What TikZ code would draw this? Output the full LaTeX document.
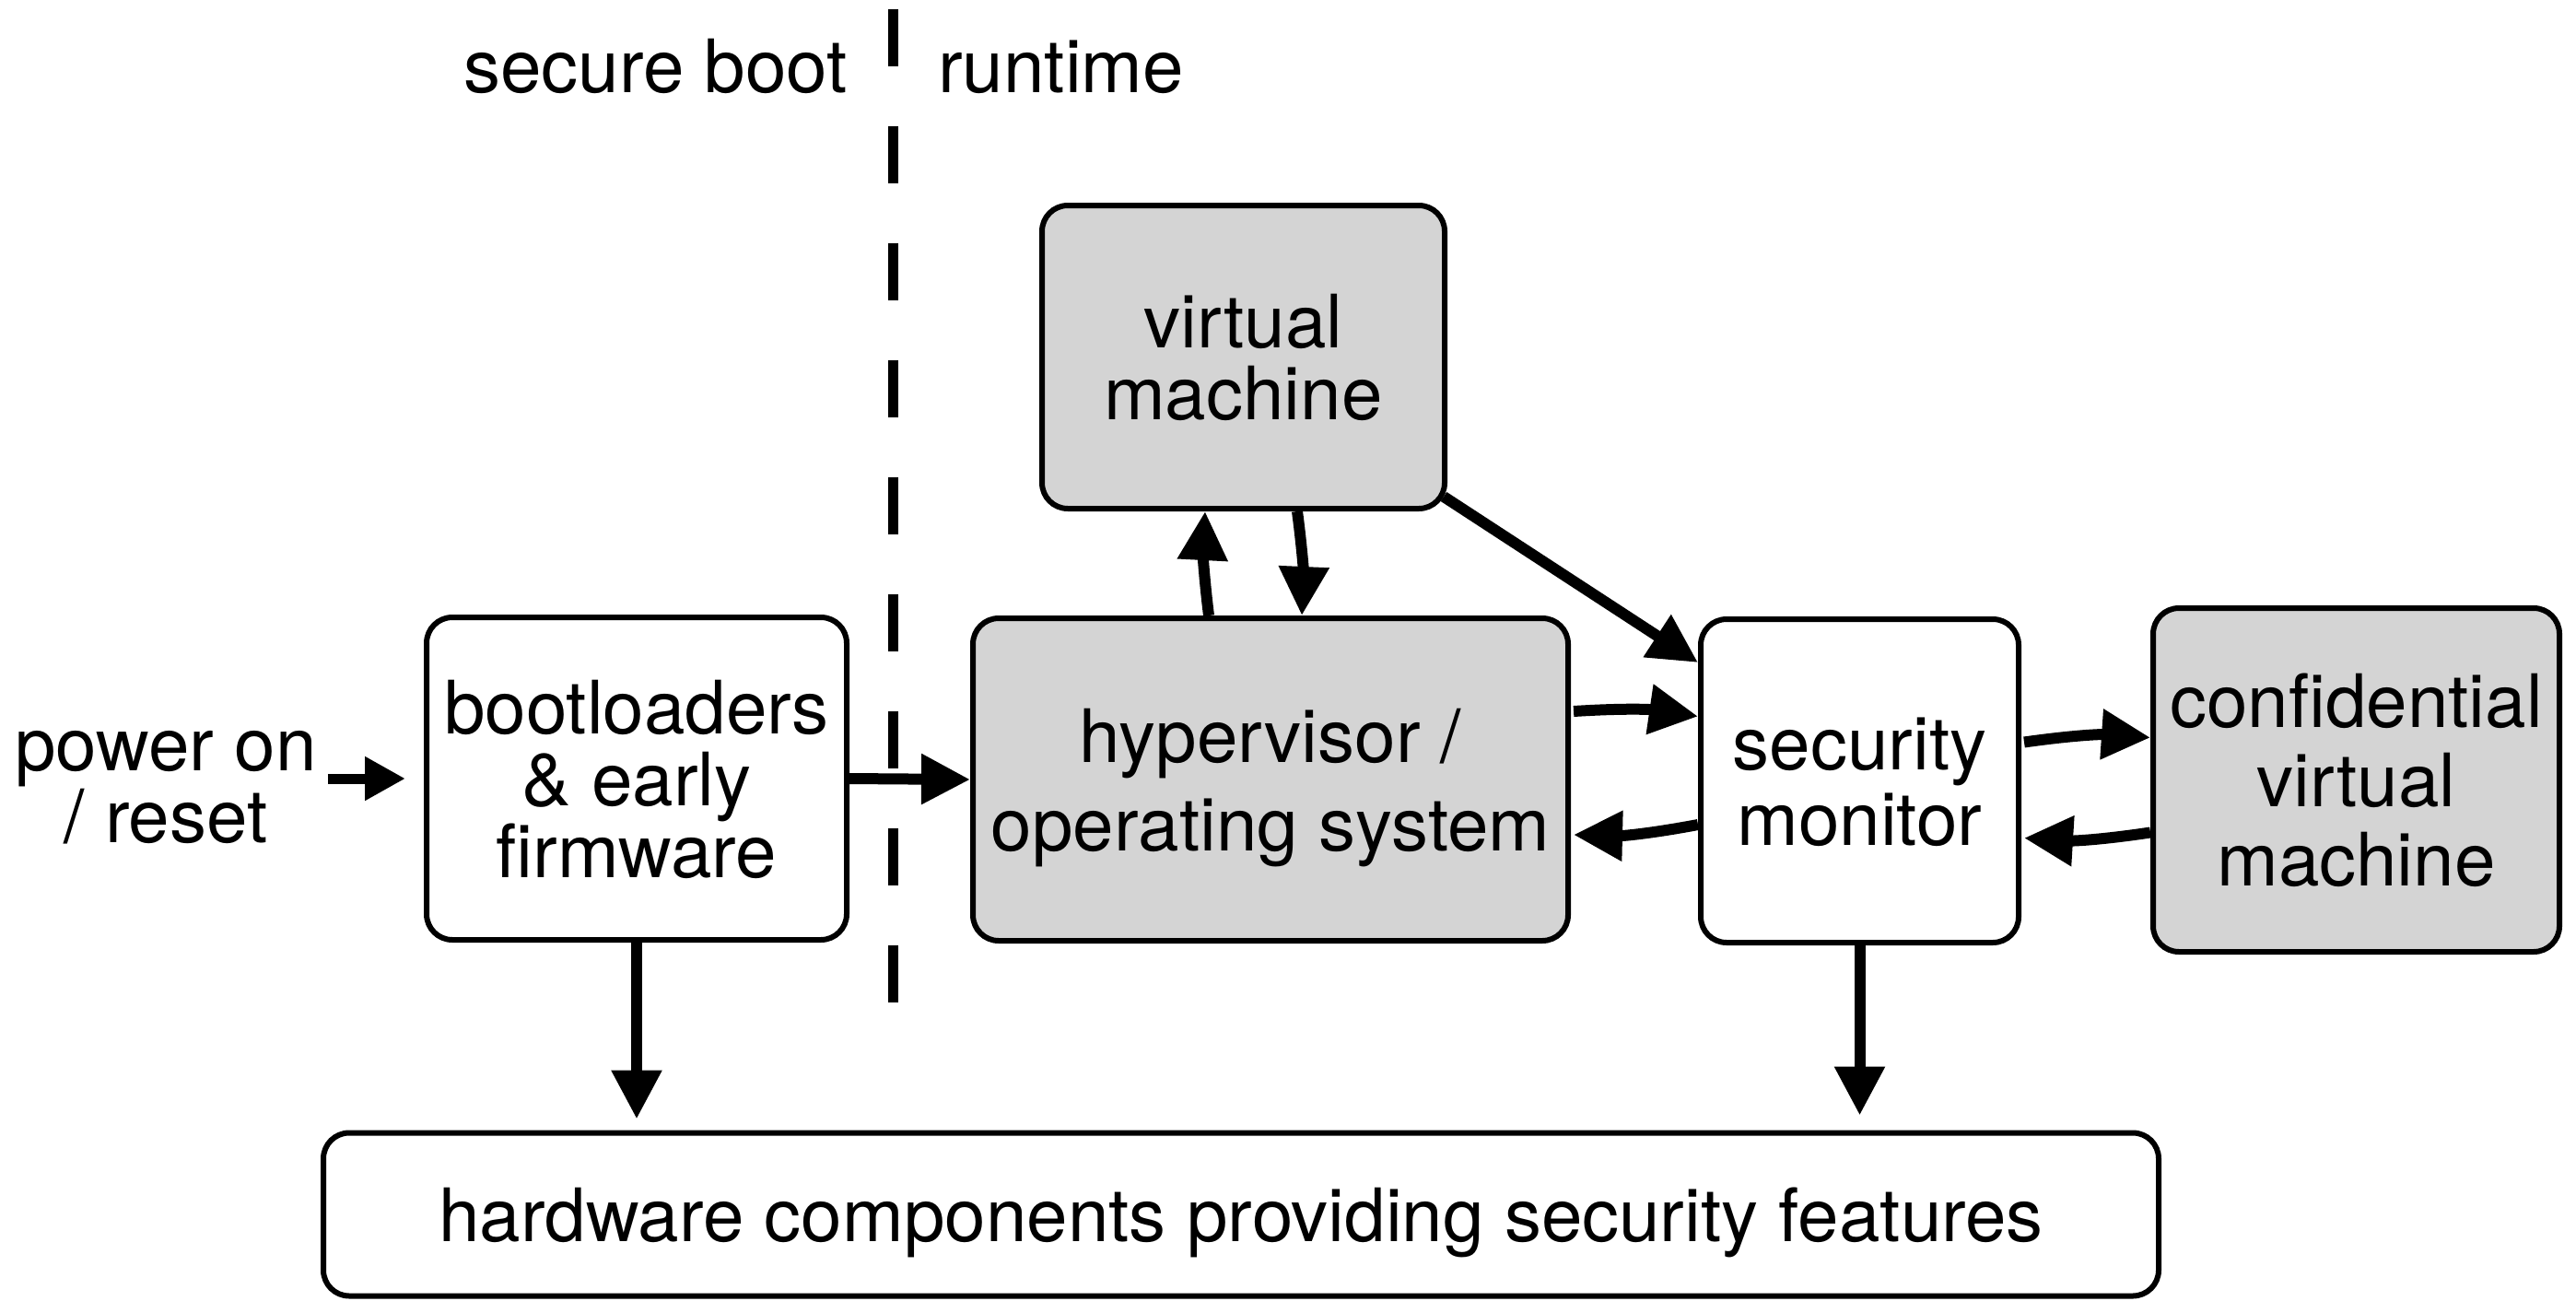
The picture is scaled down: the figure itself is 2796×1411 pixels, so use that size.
\documentclass[tikz,border=0pt]{standalone}
\usepackage{fontspec}
\setmainfont{TeX Gyre Heros}
\usetikzlibrary{arrows.meta,calc}
\definecolor{boxgray}{RGB}{212,212,212}
\newcommand\lnstrut{\vphantom{A}}
\begin{document}
\begin{tikzpicture}[x=1pt,y=-1pt,
  box/.style={draw, line width=6pt, rounded corners=28pt, align=center,
              inner sep=0pt, fill=white, text depth=0pt},
  graybox/.style={box, fill=boxgray},
  txt/.style={inner sep=0pt, font=\fontsize{80pt}{78pt}\selectfont},
  arr/.style={line width=12pt, -{Triangle[length=53pt,width=52pt]}},
  smallarr/.style={line width=11pt, -{Triangle[length=44pt,width=45pt]}}
]
\useasboundingbox (0,0) rectangle (2796,1411);

% phase labels and the dashed separator
\node[txt, anchor=base east] (lblboot) at (920,100) {secure boot};
\node[txt, anchor=base west] (lblrun) at (1018,100) {runtime};
\draw[line width=11pt, dash pattern=on 62pt off 65pt] (969,10) -- (969,1090);

% components
\node[box, minimum width=456pt, minimum height=350pt,
      font=\fontsize{80pt}{78pt}\selectfont] (boot) at (691,845)
      {\lnstrut bootloaders\\ \& early\\ firmware};
\node[graybox, minimum width=646pt, minimum height=350pt,
      font=\fontsize{80pt}{96pt}\selectfont] (hyp) at (1379,846)
      {\lnstrut hypervisor /\\ operating system};
\node[graybox, minimum width=437pt, minimum height=329pt,
      font=\fontsize{80pt}{78pt}\selectfont] (vm) at (1349.5,387.5)
      {\lnstrut virtual\\ machine};
\node[box, minimum width=345pt, minimum height=351pt,
      font=\fontsize{80pt}{82pt}\selectfont] (sm) at (2018.5,847.5)
      {\lnstrut security\\ monitor};
\node[graybox, minimum width=441pt, minimum height=373pt,
      font=\fontsize{80pt}{86pt}\selectfont] (cvm) at (2557.5,846.5)
      {\lnstrut confidential\\ virtual\\ machine};
\node[box, minimum width=1992pt, minimum height=177pt,
      font=\fontsize{80pt}{78pt}\selectfont] (hw) at (1347,1318)
      {\lnstrut hardware components providing security features};

% power-on label
\node[txt, align=center] (pwr) at (180,855.5) {\vphantom{Ag}power on\\ / reset\vphantom{Ag}};

% connectors
\draw[smallarr, shorten >=20pt] ([xshift=12pt]pwr.east |- boot.west) -- (boot.west);
\draw[arr] (boot.east) -- (hyp.west);
\draw[arr, shorten >=12pt] (boot.south) -- (boot.south |- hw.north);
\draw[arr, shorten >=16pt] (sm.south) -- (sm.south |- hw.north);

\draw[arr] ($(hyp.north)+(-67,0)$) to[bend left=5] ($(vm.south)+(-41.5,0)$);
\draw[arr] ($(vm.south)+(58.5,0)$) to[bend left=5] ($(hyp.north)+(34,0)$);
\draw[arr] ($(vm.south east)+(-4,-16)$) -- ($(sm.north west)+(0,50)$);

\draw[arr] ($(hyp.east)+(3,-74)$) to[bend left=6] ($(sm.west)+(0,-70)$);
\draw[arr] ($(sm.west)+(0,47.5)$) to[bend left=6] ($(hyp.east)+(3,60)$);

\draw[arr] ($(sm.east)+(3,-42)$) to[bend left=6] ($(cvm.west)+(0,-46)$);
\draw[arr] ($(cvm.west)+(0,57)$) to[bend left=6] ($(sm.east)+(3,62)$);
\end{tikzpicture}
\end{document}
